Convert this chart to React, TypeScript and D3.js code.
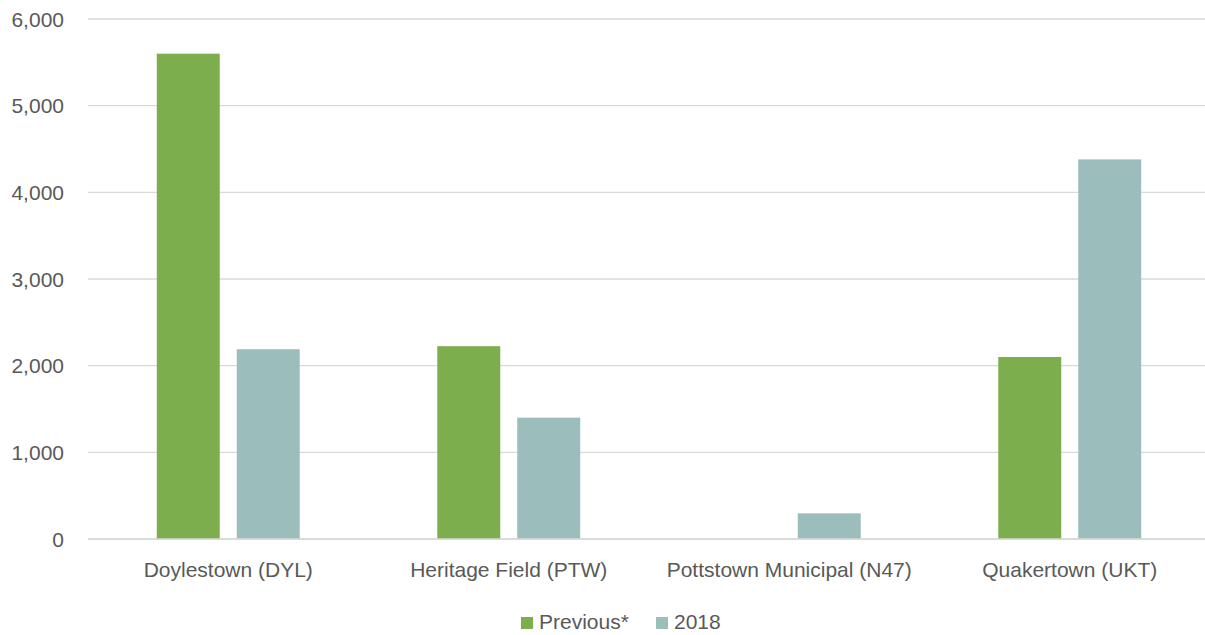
import React from 'react';
import * as d3 from 'd3';

const categories = ['Doylestown (DYL)', 'Heritage Field (PTW)', 'Pottstown Municipal (N47)', 'Quakertown (UKT)'];
const seriesNames = ['Previous*', '2018'];
const previousValues = [5600, 2225, 0, 2100];
const values2018 = [2190, 1400, 296, 4380];
const yTicks = [0, 1000, 2000, 3000, 4000, 5000, 6000];

const colors = ['#7DAE4E', '#9BBDBC'];
const textColor = '#595959';
const font = '"Liberation Sans", Arial, sans-serif';

const width = 1205;
const height = 635;
const margin = { left: 88, right: -5, top: 19, bottom: 96 };

const App = () => {
    const x = d3.scaleBand()
        .domain(categories)
        .range([margin.left, width - margin.right])
        .paddingInner(0)
        .paddingOuter(0);
    const y = d3.scaleLinear()
        .domain([0, 6000])
        .range([height - margin.bottom, margin.top]);

    // bar width ~ 22.5% of band, 17px gap between the pair
    const barW = x.bandwidth() * 0.2245;
    const gap = x.bandwidth() * 0.0606;
    const inner = d3.scaleBand()
        .domain(seriesNames)
        .range([0, barW * 2 + gap])
        .paddingInner(gap / (barW + gap));
    const groupOffset = (x.bandwidth() - (barW * 2 + gap)) / 2;

    const rows = [previousValues, values2018];
    const fmt = d3.format(',');

    return (
        <svg width={width} height={height} style={{ position: 'absolute', left: 0, top: 0, background: '#fff' }}>
            <g>
                {yTicks.map(t => (
                    <g key={t}>
                        <line x1={margin.left} x2={width - margin.right} y1={y(t)} y2={y(t)} stroke="#D9D9D9" strokeWidth={1.3} />
                        <text x={64} y={y(t)} dy="0.36em" textAnchor="end" fontFamily={font} fontSize={21} fill={textColor}>{fmt(t)}</text>
                    </g>
                ))}
            </g>
            <g>
                {rows.map((vals, si) => vals.map((v, ci) => v > 0 && (
                    <rect key={`${si}-${ci}`}
                        x={(x(categories[ci]) as number) + groupOffset + (inner(seriesNames[si]) as number)}
                        y={y(v)}
                        width={inner.bandwidth()}
                        height={y(0) - y(v)}
                        fill={colors[si]} />
                )))}
            </g>
            <line x1={margin.left} x2={width - margin.right} y1={y(0)} y2={y(0)} stroke="#D9D9D9" strokeWidth={1.3} />
            <g>
                {categories.map(c => (
                    <text key={c} x={(x(c) as number) + x.bandwidth() / 2} y={577} textAnchor="middle" fontFamily={font} fontSize={21} fill={textColor}>{c}</text>
                ))}
            </g>
            <g>
                <rect x={521} y={617} width={12} height={12} fill={colors[0]} />
                <text x={539} y={629} fontFamily={font} fontSize={21} fill={textColor}>{seriesNames[0]}</text>
                <rect x={656} y={617} width={12} height={12} fill={colors[1]} />
                <text x={674} y={629} fontFamily={font} fontSize={21} fill={textColor}>{seriesNames[1]}</text>
            </g>
        </svg>
    );
};

export default App;
